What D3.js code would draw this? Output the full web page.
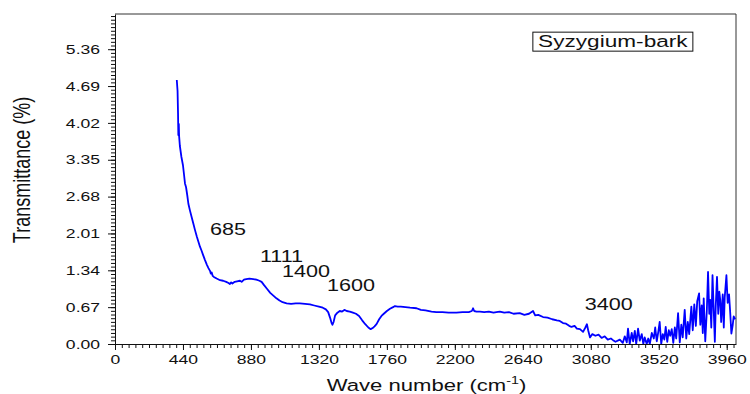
<!DOCTYPE html>
<html>
<head>
<meta charset="utf-8">
<script src="https://cdn.jsdelivr.net/npm/d3@7"></script>
<style>
  body { margin: 0; background: #fff; }
  text { font-family: "Liberation Sans", Arial, sans-serif; fill: #111; }
</style>
</head>
<body>
<div id="chart"></div>
<script>
/**
 * constant variables
 */
const WIDTH = 750;
const HEIGHT = 394;
const MARGIN = { left: 115, right: 14, top: 14, bottom: 50 };
const STRETCH = 1.35; // the reference text is drawn wide

/**
 * the data
 */
const waveNumbers = [
  400, 405, 408, 410, 412, 413, 415, 420, 430, 440, 448, 453, 460, 468, 475, 485, 496, 507, 518, 530,
  540, 550, 560, 570, 582, 595, 605, 615, 620, 626, 632, 640, 658, 680, 700, 720, 735, 744, 752, 760,
  775, 790, 809, 820, 835, 850, 870, 895, 915, 935, 949, 965, 985, 1005, 1025, 1045, 1065, 1085, 1111, 1140,
  1170, 1197, 1230, 1262, 1290, 1320, 1345, 1365, 1380, 1392, 1402, 1408, 1415, 1425, 1440, 1455, 1470, 1485, 1500, 1520,
  1540, 1560, 1580, 1600, 1620, 1640, 1655, 1668, 1680, 1693, 1710, 1725, 1740, 1760, 1780, 1800, 1812, 1830, 1850, 1880,
  1910, 1952, 1980, 2010, 2049, 2080, 2120, 2160, 2210, 2250, 2290, 2310, 2318, 2325, 2340, 2362, 2390, 2420, 2450, 2469,
  2491, 2520, 2550, 2580, 2620, 2650, 2680, 2706, 2720, 2740, 2771, 2800, 2830, 2860, 2879, 2900, 2920, 2940, 2955, 2975,
  2990, 3010, 3030, 3045, 3055, 3063, 3075, 3090, 3110, 3130, 3150, 3170, 3190, 3210, 3224, 3240, 3268, 3287, 3300, 3313,
  3321, 3332, 3345, 3354, 3365, 3374, 3386, 3397, 3410, 3420, 3429, 3442, 3452, 3462, 3475, 3488, 3497, 3507, 3517, 3526,
  3536, 3546, 3556, 3565, 3575, 3585, 3594, 3604, 3614, 3624, 3633, 3645, 3656, 3666, 3675, 3688, 3698, 3708, 3717, 3731,
  3740, 3750, 3760, 3769, 3781, 3789, 3798, 3805, 3811, 3821, 3831, 3839, 3847, 3853, 3860, 3868, 3876, 3883, 3889, 3897,
  3905, 3912, 3918, 3924, 3934, 3941, 3947, 3958, 3966, 3975, 3983, 3990, 3999, 4005, 4015
];

const transmittance = [
  4.80, 4.60, 4.20, 3.80, 3.85, 4.00, 3.78, 3.60, 3.40, 3.25, 3.05, 2.92, 2.85, 2.70, 2.55, 2.43, 2.31, 2.19, 2.07, 1.95,
  1.86, 1.77, 1.70, 1.62, 1.53, 1.44, 1.38, 1.33, 1.28, 1.30, 1.24, 1.22, 1.19, 1.16, 1.15, 1.13, 1.11, 1.09, 1.12, 1.10,
  1.13, 1.14, 1.15, 1.13, 1.17, 1.18, 1.19, 1.18, 1.17, 1.15, 1.13, 1.07, 1.00, 0.93, 0.88, 0.83, 0.79, 0.76, 0.74, 0.73,
  0.74, 0.74, 0.73, 0.72, 0.70, 0.68, 0.66, 0.63, 0.58, 0.48, 0.38, 0.35, 0.40, 0.52, 0.57, 0.60, 0.59, 0.62, 0.60, 0.59,
  0.57, 0.55, 0.51, 0.43, 0.36, 0.30, 0.27, 0.29, 0.32, 0.36, 0.45, 0.51, 0.55, 0.60, 0.64, 0.67, 0.69, 0.68, 0.68, 0.67,
  0.66, 0.65, 0.62, 0.61, 0.59, 0.58, 0.58, 0.57, 0.57, 0.58, 0.58, 0.60, 0.65, 0.60, 0.59, 0.59, 0.58, 0.59, 0.57, 0.58,
  0.59, 0.57, 0.58, 0.55, 0.56, 0.53, 0.55, 0.60, 0.52, 0.53, 0.49, 0.48, 0.45, 0.43, 0.42, 0.38, 0.37, 0.33, 0.31, 0.33,
  0.28, 0.27, 0.22, 0.30, 0.36, 0.25, 0.12, 0.18, 0.15, 0.17, 0.11, 0.14, 0.08, 0.10, 0.07, 0.04, 0.08, 0.02, 0.14, 0.03,
  0.28, 0.00, 0.20, 0.05, 0.24, 0.00, 0.28, 0.06, 0.18, 0.00, 0.12, 0.00, 0.10, 0.00, 0.20, 0.10, 0.30, 0.05, 0.22, 0.40,
  0.00, 0.18, 0.08, 0.31, 0.04, 0.25, 0.15, 0.27, 0.02, 0.30, 0.10, 0.56, 0.03, 0.35, 0.12, 0.62, 0.10, 0.40, 0.18, 0.68,
  0.25, 0.72, 0.33, 0.78, 0.92, 0.35, 0.70, 0.20, 0.83, 0.05, 0.60, 1.31, 0.55, 0.80, 0.30, 1.25, 0.60, 0.04, 0.70, 1.22,
  0.55, 0.95, 0.80, 0.40, 0.90, 0.30, 0.85, 1.25, 0.75, 0.90, 0.55, 0.19, 0.35, 0.50, 0.45
];

const xTicks = [0, 440, 880, 1320, 1760, 2200, 2640, 3080, 3520, 3960];
const yTicks = [0, 0.67, 1.34, 2.01, 2.68, 3.35, 4.02, 4.69, 5.36];

// peak annotations, anchored in data units (left edge, baseline)
const peakLabels = ["685", "1111", "1400", "1600", "3400"];
const peakX = [615, 938, 1081, 1372, 3041];
const peakY = [1.98, 1.49, 1.22, 0.96, 0.62];

const legendLabel = "Syzygium-bark";

/**
 * draw
 */
const svg = d3.select("#chart").append("svg")
                               .attr("width", WIDTH)
                               .attr("height", HEIGHT);

const x = d3.scaleLinear()
            .domain([0, 4020])
            .range([MARGIN.left, WIDTH - MARGIN.right]);

const y = d3.scaleLinear()
            .domain([0, 6.0])
            .range([HEIGHT - MARGIN.bottom, MARGIN.top]);

const x0 = MARGIN.left, x1 = WIDTH - MARGIN.right;
const y0 = HEIGHT - MARGIN.bottom, y1 = MARGIN.top;

// minor ticks
const xMinor = d3.range(0, 4020, 44);
const yMinor = d3.range(0, 6.0, 0.067);

svg.append("g")
   .attr("transform", `translate(0, ${y0})`)
   .call(d3.axisBottom(x).tickValues(xMinor).tickSize(4).tickFormat(""))
   .call(g => g.select(".domain").remove());

svg.append("g")
   .attr("transform", `translate(${x0}, 0)`)
   .call(d3.axisLeft(y).tickValues(yMinor).tickSize(4).tickFormat(""))
   .call(g => g.select(".domain").remove());

// major axes
const xAxis = svg.append("g")
                 .attr("class", "axis x-axis")
                 .attr("transform", `translate(0, ${y0})`)
                 .call(d3.axisBottom(x).tickValues(xTicks).tickSize(6).tickSizeOuter(0).tickPadding(5).tickFormat(d3.format("d")));

xAxis.selectAll("text")
     .attr("font-size", 13)
     .attr("font-family", "Liberation Sans, Arial, sans-serif")
     .attr("transform", `scale(${STRETCH},1)`);

const yAxis = svg.append("g")
                 .attr("class", "axis y-axis")
                 .attr("transform", `translate(${x0}, 0)`)
                 .call(d3.axisLeft(y).tickValues(yTicks).tickSize(7).tickSizeOuter(0).tickFormat(d3.format(".2f")));

yAxis.selectAll("text")
     .attr("font-size", 13)
     .attr("font-family", "Liberation Sans, Arial, sans-serif")
     .attr("x", -15 / STRETCH)
     .attr("transform", `scale(${STRETCH},1)`);

svg.selectAll(".tick line").attr("stroke", "#111");
svg.selectAll(".domain").attr("stroke", "#111");

// frame, top and right
svg.append("path")
   .attr("d", `M${x0},${y1}H${x1}V${y0}`)
   .attr("fill", "none")
   .attr("stroke", "#333")
   .attr("stroke-width", 1);

// the spectrum
svg.append("clipPath")
   .attr("id", "plotClip")
   .append("rect")
   .attr("x", x0)
   .attr("y", y1)
   .attr("width", x1 - x0)
   .attr("height", y0 - y1);

const line = d3.line()
               .x((d, i) => x(waveNumbers[i]))
               .y(d => y(d));

svg.append("path")
   .datum(transmittance)
   .attr("clip-path", "url(#plotClip)")
   .attr("fill", "none")
   .attr("stroke", "#0000ff")
   .attr("stroke-width", 1.8)
   .attr("stroke-linejoin", "round")
   .attr("d", line);

// peak labels
svg.selectAll(".peakLabel")
   .data(peakLabels)
   .enter()
   .append("text")
   .attr("class", "peakLabel")
   .attr("font-size", 16)
   .attr("transform", (d, i) => `translate(${x(peakX[i])}, ${y(peakY[i])}) scale(${STRETCH},1)`)
   .text(d => d);

// legend box
const legend = svg.append("g")
                  .attr("transform", `translate(${x(2705)}, ${y(5.67)})`);

legend.append("rect")
      .attr("width", 160)
      .attr("height", 19)
      .attr("fill", "none")
      .attr("stroke", "#111")
      .attr("stroke-width", 1);

legend.append("text")
      .attr("font-size", 17)
      .attr("text-anchor", "middle")
      .attr("transform", `translate(80, 15) scale(${STRETCH - 0.02},1)`)
      .text(legendLabel);

// axis titles
const xTitle = svg.append("text")
                  .attr("font-size", 17)
                  .attr("text-anchor", "middle")
                  .attr("transform", `translate(${(x0 + x1) / 2 + 1}, 391) scale(1.3,1)`);
xTitle.append("tspan").text("Wave number (cm");
xTitle.append("tspan").attr("font-size", 11).attr("dy", -7).text("-1");
xTitle.append("tspan").attr("dy", 7).text(")");

svg.append("text")
   .attr("font-size", 18)
   .attr("text-anchor", "middle")
   .attr("transform", `translate(30, 170) scale(1.3,1) rotate(-90)`)
   .text("Transmittance (%)");
</script>
</body>
</html>
